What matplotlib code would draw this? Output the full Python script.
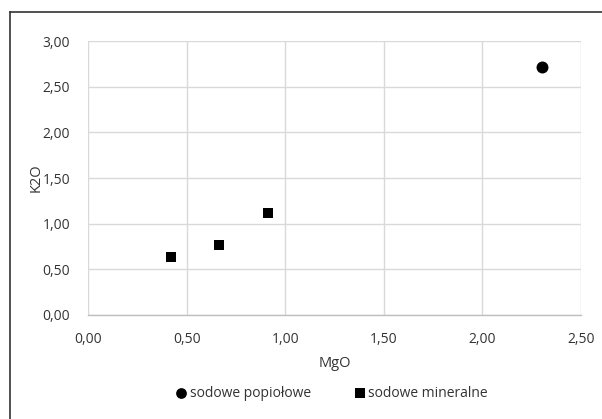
import matplotlib.pyplot as plt
from matplotlib.lines import Line2D
from matplotlib.ticker import FuncFormatter

plt.rcParams['font.family'] = ['Open Sans', 'DejaVu Sans']

# data
popiolowe_mgo = [2.30]
popiolowe_k2o = [2.715]
mineralne_mgo = [0.422, 0.663, 0.911]
mineralne_k2o = [0.638, 0.763, 1.113]

x_ticks = [0.0, 0.5, 1.0, 1.5, 2.0, 2.5]
y_ticks = [0.0, 0.5, 1.0, 1.5, 2.0, 2.5, 3.0]

text_color = '#333333'
grid_color = '#d9d9d9'

W, H = 602, 419
fig = plt.figure(figsize=(W / 100, H / 100), dpi=100)
ax = fig.add_axes([88.3 / W, 1 - 315 / H, (581 - 88.3) / W, (315 - 41) / H])

ax.scatter(popiolowe_mgo, popiolowe_k2o, marker='o', s=8.6 ** 2, color='black',
           linewidths=0, zorder=3, label='sodowe popiołowe')
ax.scatter(mineralne_mgo, mineralne_k2o, marker='s', s=7.9 ** 2, color='black',
           linewidths=0, zorder=3, label='sodowe mineralne')

ax.set_xlim(0, 2.5)
ax.set_ylim(0, 3.0)
ax.set_xticks(x_ticks)
ax.set_yticks(y_ticks)
fmt = FuncFormatter(lambda v, p: f"{v:.2f}".replace('.', ','))
ax.xaxis.set_major_formatter(fmt)
ax.yaxis.set_major_formatter(fmt)
ax.tick_params(length=0, labelsize=10, labelcolor=text_color)
ax.tick_params(axis='x', pad=12)
ax.tick_params(axis='y', pad=13)

ax.grid(True, color=grid_color, linewidth=1.0)
ax.set_axisbelow(True)
for side in ['top', 'right', 'left']:
    ax.spines[side].set_visible(False)
ax.spines['bottom'].set_color('#bfbfbf')
ax.spines['bottom'].set_linewidth(1.0)

ax.set_xlabel('MgO', fontsize=10.5, color=text_color, labelpad=7)
ax.set_ylabel('K2O', fontsize=10.5, color=text_color)
ax.yaxis.set_label_coords(-0.09, 0.5)

fig.legend(loc='center', bbox_to_anchor=(331 / W, 1 - 393 / H), ncol=2,
           frameon=False, fontsize=10, labelcolor=text_color, markerscale=0.9,
           handletextpad=0.1, columnspacing=3.0, handlelength=1.0)

# outer chart border (only top and left visible in crop)
fig.add_artist(Line2D([10 / W, 1], [1 - 12 / H, 1 - 12 / H], color='#333333', linewidth=1.2))
fig.add_artist(Line2D([10 / W, 10 / W], [0, 1 - 12 / H], color='#333333', linewidth=1.2))

fig.savefig('out.png', dpi=100)
